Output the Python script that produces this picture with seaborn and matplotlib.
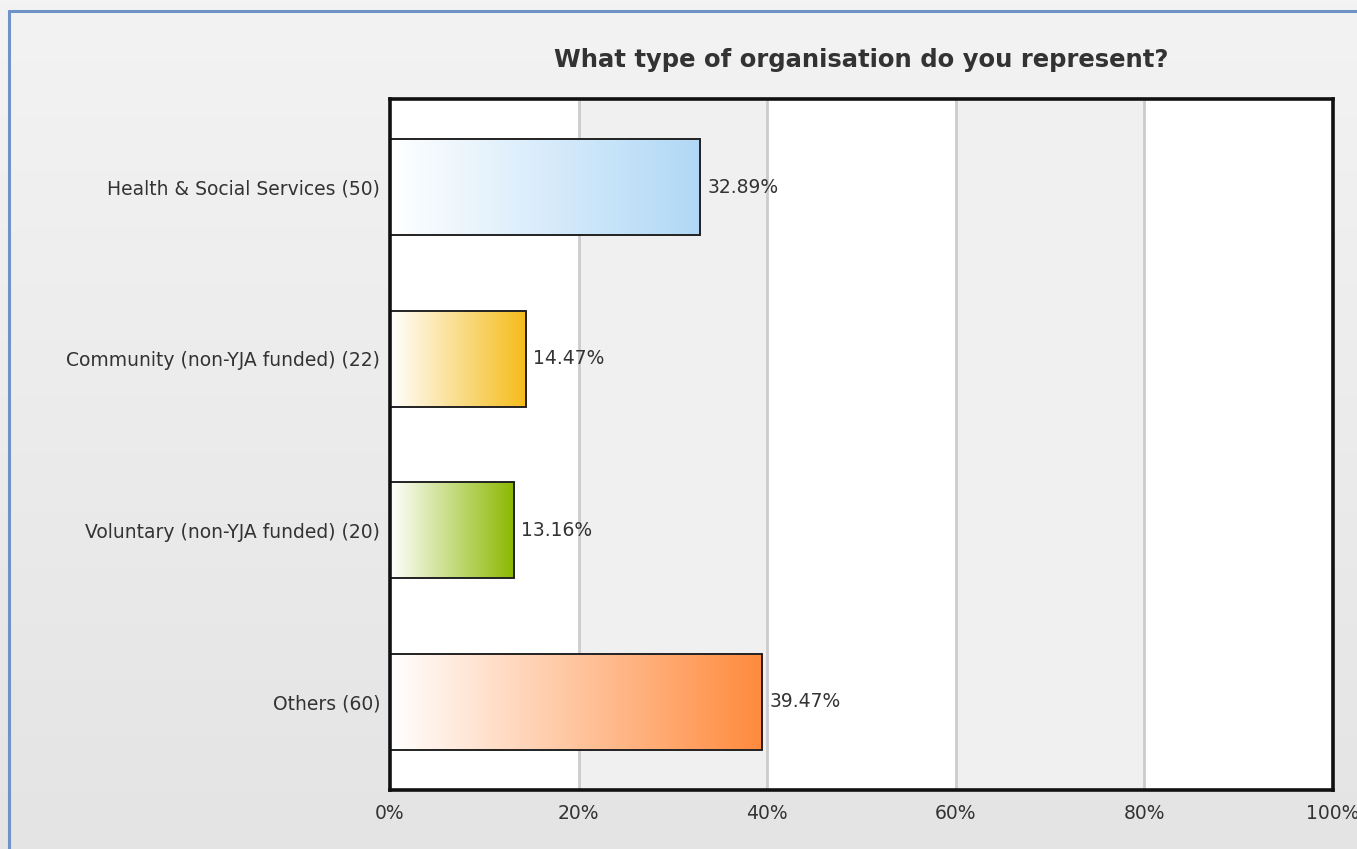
import numpy as np
import pandas as pd
import matplotlib
matplotlib.use("Agg")
import matplotlib.pyplot as plt
import seaborn as sns
from matplotlib.colors import LinearSegmentedColormap
from matplotlib.lines import Line2D

categories = ["Health & Social Services (50)", "Community (non-YJA funded) (22)",
              "Voluntary (non-YJA funded) (20)", "Others (60)"]
values = [32.89, 14.47, 13.16, 39.47]
value_labels = ["32.89%", "14.47%", "13.16%", "39.47%"]
end_colors = ["#b0d8f6", "#f5bb18", "#8bb800", "#ff8a3d"]
x_ticks = [0, 20, 40, 60, 80, 100]
x_tick_labels = ["0%", "20%", "40%", "60%", "80%", "100%"]
title = "What type of organisation do you represent?"

sns.set_theme(style="white")
plt.rcParams['font.family'] = ['DejaVu Sans']
plt.rcParams['font.sans-serif'] = ['DejaVu Sans']
FAM = "DejaVu Sans"
FS = 13.5

W, H = 1357, 849
fig = plt.figure(figsize=(W / 100, H / 100), dpi=100)

# background gradient
bg = fig.add_axes([0, 0, 1, 1], zorder=-10)
grad = np.linspace(0, 1, 256).reshape(-1, 1)
bg_cmap = LinearSegmentedColormap.from_list("bg", ["#f3f3f3", "#e4e4e4"])
bg.imshow(grad, aspect="auto", cmap=bg_cmap, extent=[0, 1, 0, 1], origin="upper")
bg.set_xlim(0, 1)
bg.set_ylim(0, 1)
bg.axis("off")
# blue frame lines (top & left)
fig.add_artist(Line2D([9 / W, 1], [1 - 11 / H, 1 - 11 / H], color="#6f93c9", lw=2.2))
fig.add_artist(Line2D([9 / W, 9 / W], [0, 1 - 11 / H], color="#6f93c9", lw=2.2))

left, right, top, bottom = 390, 1333, 99, 790
ax = fig.add_axes([left / W, 1 - bottom / H, (right - left) / W, (bottom - top) / H])

df = pd.DataFrame({"category": categories, "value": values})
sns.barplot(data=df, x="value", y="category", orient="h", ax=ax, width=0.56,
            color="white", edgecolor="#222222", linewidth=1.4, zorder=3)

# alternating bands
for i in range(5):
    ax.axvspan(i * 20, (i + 1) * 20, color="white" if i % 2 == 0 else "#f0f0f0", zorder=0, lw=0)
for t in x_ticks[1:-1]:
    ax.axvline(t, color="#cccccc", lw=2, zorder=1)

# gradient fills
for patch, col in zip(ax.patches, end_colors):
    x0, y0 = patch.get_x(), patch.get_y()
    w, h = patch.get_width(), patch.get_height()
    cmap = LinearSegmentedColormap.from_list("g", ["#ffffff", col])
    im = ax.imshow(np.linspace(0, 1, 256).reshape(1, -1), cmap=cmap, aspect="auto",
                   extent=[x0, x0 + w, y0 + h, y0], zorder=2, interpolation="bilinear")
    im.set_clip_path(patch)
    patch.set_facecolor("none")

ax.set_xlim(0, 100)
ax.set_ylim(len(categories) - 0.5 + 0.013, -0.513)

for i, (v, lab) in enumerate(zip(values, value_labels)):
    ax.annotate(lab, (v, i), xytext=(5, 0), textcoords="offset points",
                va="center", ha="left", fontsize=FS, color="#333333", zorder=5,
                family=FAM)

ax.set_xticks(x_ticks)
ax.set_xticklabels(x_tick_labels, fontsize=FS, color="#333333", family=FAM)
ax.set_yticks(range(len(categories)))
ax.set_yticklabels(categories, fontsize=FS, color="#333333", family=FAM)
ax.tick_params(axis="x", length=0, pad=10)
ax.tick_params(axis="y", length=0, pad=7)
ax.set_xlabel("")
ax.set_ylabel("")
for s in ax.spines.values():
    s.set_visible(True)
    s.set_color("#111111")
    s.set_linewidth(2.6)
    s.set_zorder(6)

fig.text((left + right) / 2 / W, 1 - 60 / H, title, ha="center", va="center",
         fontsize=17.5, fontweight="bold", color="#333333", family=FAM)

fig.savefig("out.png", dpi=100)
